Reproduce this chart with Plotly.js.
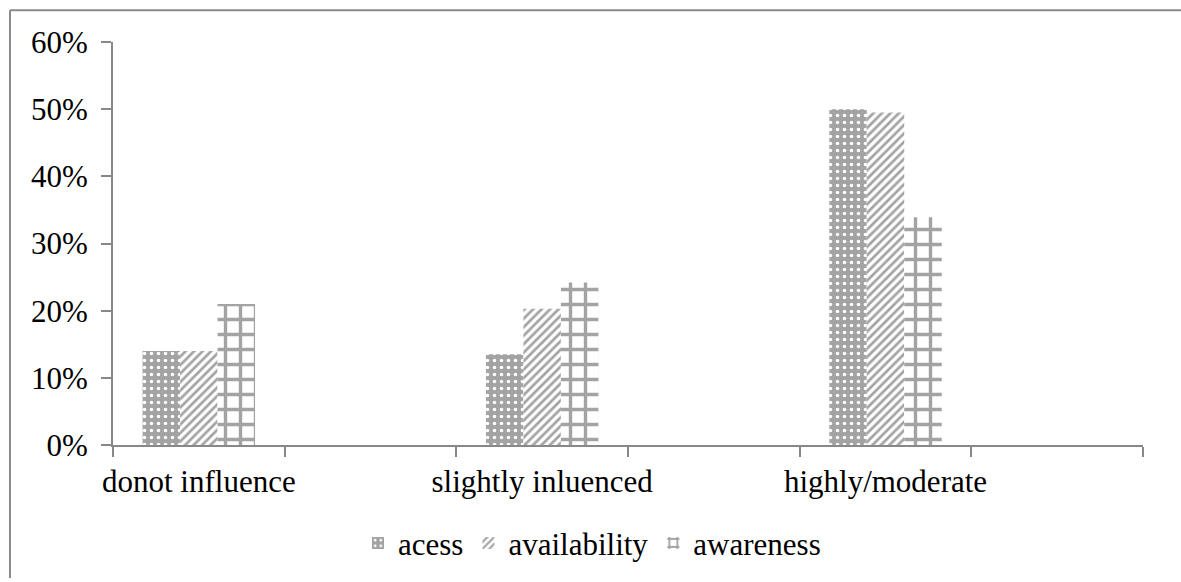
<!DOCTYPE html>
<html>
<head>
<meta charset="utf-8">
<script src="https://cdn.plot.ly/plotly-3.0.1.min.js"></script>
<style>
  html, body { margin: 0; padding: 0; background: #fff; }
  #chart { width: 1181px; height: 582px; }
</style>
</head>
<body>
<div id="chart"></div>
<script>
// Categories (blank slots included, as in the original axis)
const categories = ["donot influence", " ", "slightly inluenced", "  ", "highly/moderate", "   "];
const dataCategories = ["donot influence", "slightly inluenced", "highly/moderate"];
const seriesNames = ["acess", "availability", "awareness"];
const acess = [0.14, 0.135, 0.50];
const availability = [0.14, 0.203, 0.495];
const awareness = [0.21, 0.242, 0.339];
const yTickVals = [0, 0.1, 0.2, 0.3, 0.4, 0.5, 0.6];

const gray = "#a3a3a3";
const font = { family: "Liberation Serif", size: 31, color: "#000" };

const traces = [
  {
    type: "bar", name: seriesNames[0], x: dataCategories, y: acess,
    marker: { color: gray, line: { width: 0 },
      pattern: { shape: ".", fgcolor: "#ffffff", bgcolor: gray, size: 7, solidity: 0.2, fillmode: "replace" } }
  },
  {
    type: "bar", name: seriesNames[1], x: dataCategories, y: availability,
    marker: { color: "#ffffff", line: { width: 0 },
      pattern: { shape: "/", fgcolor: gray, bgcolor: "#ffffff", size: 6, solidity: 0.45, fillmode: "replace" } }
  },
  {
    type: "bar", name: seriesNames[2], x: dataCategories, y: awareness,
    marker: { color: "#ffffff", line: { width: 0 },
      pattern: { shape: "+", fgcolor: gray, bgcolor: "#ffffff", size: 15, solidity: 0.4, fillmode: "replace" } }
  }
];

const L = 113, R = 1143, T = 42, B = 448;
const pw = R - L, ph = B - T;
const px = v => (v - L) / pw;
const py = v => (B - v) / ph;

const layout = {
  width: 1181, height: 582,
  margin: { l: L, r: 1181 - R, t: T, b: 582 - B, pad: 0 },
  paper_bgcolor: "#fff", plot_bgcolor: "#fff",
  font: font,
  barmode: "group", bargap: 0.345, bargroupgap: 0,
  showlegend: true,
  legend: { orientation: "h", x: px(592), xanchor: "center", y: py(547), yanchor: "middle",
    font: font, itemwidth: 30, traceorder: "normal" },
  xaxis: {
    type: "category", categoryorder: "array", categoryarray: categories,
    range: [-0.5, 5.5], tickson: "boundaries", ticks: "outside", ticklen: 10, tickangle: 0,
    ticklabelstandoff: 8,
    tickcolor: "#888", tickwidth: 2, showline: true, linecolor: "#888", linewidth: 2,
    showgrid: false, zeroline: false, tickfont: font, fixedrange: true
  },
  yaxis: {
    range: [0, 0.6], tickvals: yTickVals, tickformat: ".0%", ticks: "outside", ticklen: 10,
    tickcolor: "#888", tickwidth: 2, showline: true, linecolor: "#888", linewidth: 2,
    showgrid: false, zeroline: false, tickfont: font, ticklabelstandoff: 7, fixedrange: true
  },
  shapes: [
    { type: "line", xref: "paper", yref: "paper", x0: px(10), x1: px(1181), y0: py(10), y1: py(10),
      line: { color: "#8a8a8a", width: 2 } },
    { type: "line", xref: "paper", yref: "paper", x0: px(10), x1: px(10), y0: py(10), y1: py(582),
      line: { color: "#8a8a8a", width: 2 } }
  ]
};

Plotly.newPlot("chart", traces, layout, { displayModeBar: false, staticPlot: true });
</script>
</body>
</html>
